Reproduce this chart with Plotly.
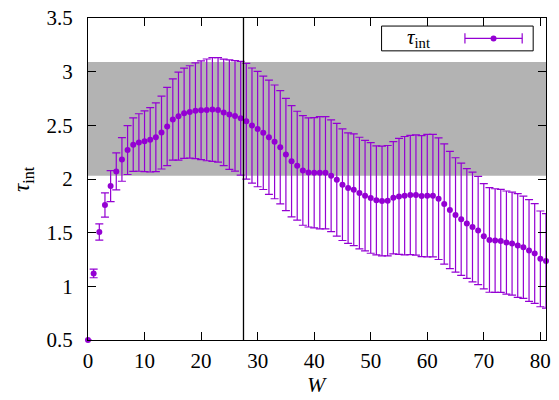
import plotly.graph_objects as go

W = list(range(0, 82))
tau = [0.5, 1.12, 1.506, 1.757, 1.934, 2.071, 2.182, 2.27, 2.32, 2.34,
       2.352, 2.365, 2.389, 2.433, 2.489, 2.554, 2.585, 2.613, 2.625, 2.635,
       2.640, 2.644, 2.647, 2.644, 2.62, 2.60, 2.588, 2.566, 2.538, 2.498,
       2.465, 2.43, 2.389, 2.346, 2.296, 2.229, 2.166, 2.124, 2.08, 2.061,
       2.058, 2.058, 2.058, 2.03, 1.993, 1.947, 1.915, 1.90, 1.869, 1.845,
       1.823, 1.801, 1.795, 1.798, 1.826, 1.838, 1.845, 1.851, 1.851, 1.841,
       1.845, 1.845, 1.817, 1.767, 1.711, 1.665, 1.625, 1.585, 1.553, 1.52,
       1.467, 1.432, 1.426, 1.423, 1.408, 1.398, 1.38, 1.364, 1.334, 1.306,
       1.256, 1.237]
err = [0.0, 0.04, 0.076, 0.113, 0.144, 0.172, 0.203, 0.228, 0.249, 0.268,
       0.283, 0.30, 0.32, 0.34, 0.365, 0.378, 0.41, 0.42, 0.43, 0.446,
       0.46, 0.474, 0.483, 0.486, 0.496, 0.51, 0.514, 0.53, 0.54, 0.536,
       0.537, 0.528, 0.533, 0.53, 0.527, 0.523, 0.518, 0.507, 0.511, 0.508,
       0.514, 0.523, 0.523, 0.52, 0.526, 0.52, 0.515, 0.52, 0.52, 0.514,
       0.515, 0.508, 0.511, 0.514, 0.523, 0.54, 0.551, 0.555, 0.561, 0.564,
       0.57, 0.57, 0.567, 0.561, 0.546, 0.533, 0.523, 0.511, 0.511, 0.505,
       0.49, 0.487, 0.483, 0.48, 0.48, 0.48, 0.483, 0.477, 0.474, 0.465,
       0.446, 0.44]

band_low, band_high = 2.03, 3.09
W_cut = 27.5
x_ticks = [0, 10, 20, 30, 40, 50, 60, 70, 80]
y_ticks = [0.5, 1, 1.5, 2, 2.5, 3, 3.5]
y_tick_text = ["0.5", "1", "1.5", "2", "2.5", "3", "3.5"]
series_name = "<i>τ</i><sub>int</sub>"
x_title = "<i>W</i>"

color = "#9400D3"
FONT = "Liberation Serif"

fig = go.Figure()
fig.add_trace(go.Scatter(
    x=W, y=tau, mode="markers",
    marker=dict(color=color, size=6),
    error_y=dict(type="data", array=err, visible=True, color=color,
                 thickness=1.2, width=4),
    showlegend=False, cliponaxis=False,
))

# gray band
fig.add_shape(type="rect", xref="x", yref="y", x0=0, x1=81,
              y0=band_low, y1=band_high, fillcolor="#b3b3b3",
              line_width=0, layer="below")
# vertical line
fig.add_shape(type="line", xref="x", yref="y", x0=W_cut, x1=W_cut,
              y0=0.5, y1=3.5, line=dict(color="black", width=1.3))

# manual legend (gnuplot style)
lx0, lx1, ly0, ly1 = 0.641, 0.972, 0.898, 0.975
fig.add_shape(type="rect", xref="paper", yref="paper", x0=lx0, x1=lx1,
              y0=ly0, y1=ly1, line=dict(color="black", width=1))
ly = (ly0 + ly1) / 2
sx0, sx1 = 0.823, 0.948
fig.add_shape(type="line", xref="paper", yref="paper", x0=sx0, x1=sx1,
              y0=ly, y1=ly, line=dict(color=color, width=1.2))
for sx in (sx0, sx1):
    fig.add_shape(type="line", xref="paper", yref="paper", x0=sx, x1=sx,
                  y0=ly - 0.016, y1=ly + 0.016, line=dict(color=color, width=1.2))
fig.add_shape(type="circle", xref="paper", yref="paper",
              x0=(sx0 + sx1) / 2 - 0.0065, x1=(sx0 + sx1) / 2 + 0.0065,
              y0=ly - 0.0093, y1=ly + 0.0093, fillcolor=color, line_width=0)
fig.add_annotation(xref="paper", yref="paper", x=0.751, y=ly,
                   text=series_name, showarrow=False, yanchor="middle",
                   font=dict(family=FONT, size=21, color="black"))

# axis titles
fig.add_annotation(xref="paper", yref="paper", x=0.5, y=-0.137,
                   text=x_title, showarrow=False, yanchor="middle",
                   font=dict(family=FONT, size=22, color="black"))
fig.add_annotation(xref="paper", yref="paper", x=-0.142, y=0.50,
                   text=series_name, showarrow=False, textangle=-90,
                   xanchor="center", yanchor="middle",
                   font=dict(family=FONT, size=23, color="black"))

axis_common = dict(showline=True, linecolor="black", linewidth=1.3,
                   mirror="allticks", ticks="inside", ticklen=8,
                   tickcolor="black", tickwidth=1, showgrid=False,
                   zeroline=False, automargin=False,
                   tickfont=dict(family=FONT, size=21, color="black"))

fig.update_layout(
    width=559, height=400,
    margin=dict(l=88, r=13, t=18, b=60, autoexpand=False),
    plot_bgcolor="white", paper_bgcolor="white",
    xaxis=dict(range=[0, 81], tickvals=x_ticks, ticklabelstandoff=2,
               **axis_common),
    yaxis=dict(range=[0.5, 3.5], tickvals=y_ticks, ticktext=y_tick_text,
               ticklabelstandoff=10, **axis_common),
)

fig.write_html("out.html", config={"displayModeBar": False},
               post_script="document.body.style.margin='0px';document.body.style.overflow='hidden';")
